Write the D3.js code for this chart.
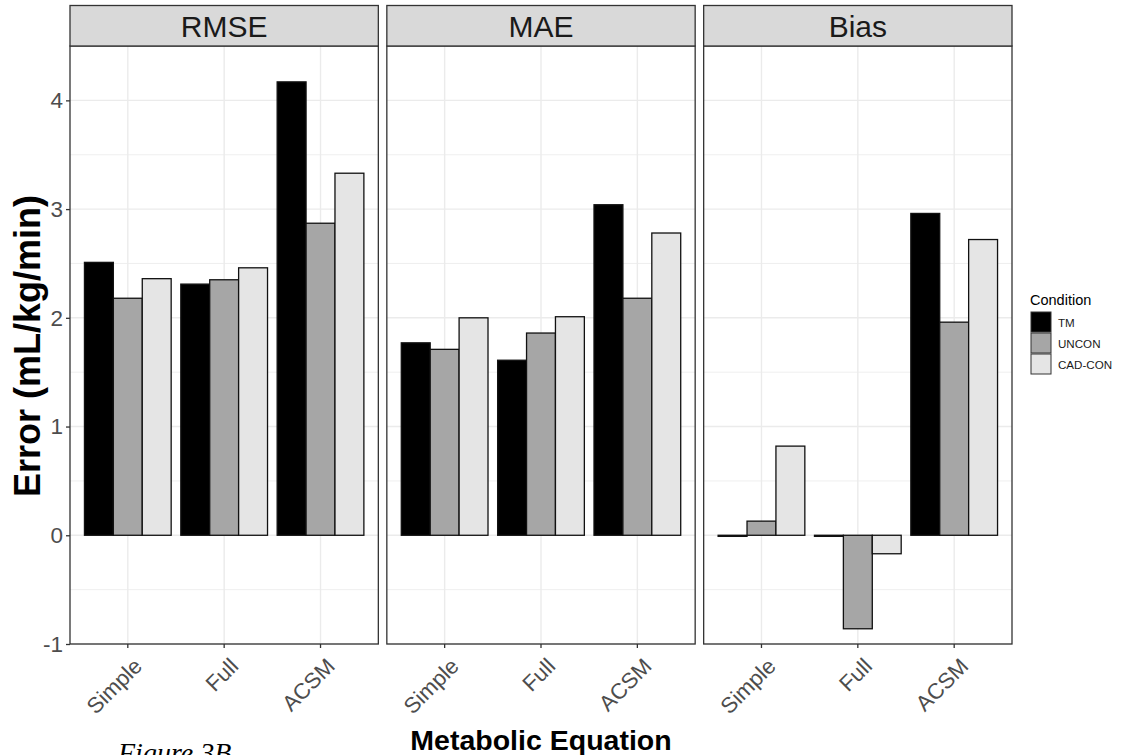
<!DOCTYPE html>
<html>
<head>
<meta charset="utf-8">
<script src="https://cdn.jsdelivr.net/npm/d3@7"></script>
<style>
  body { margin: 0; background: #ffffff; }
  svg { display: block; font-family: "Liberation Sans", Arial, sans-serif; }
</style>
</head>
<body>
<svg id="chart" width="1146" height="755"></svg>
<script>
// Facets, categories and series
const metrics = ["RMSE", "MAE", "Bias"];
const equations = ["Simple", "Full", "ACSM"];
const conditions = ["TM", "UNCON", "CAD-CON"];
const conditionFills = ["#000000", "#A6A6A6", "#E5E5E5"];

// Values per condition (rows: TM, UNCON, CAD-CON; columns: Simple, Full, ACSM)
const rmseValues = [[2.51, 2.31, 4.17], [2.18, 2.35, 2.87], [2.36, 2.46, 3.33]];
const maeValues  = [[1.77, 1.61, 3.04], [1.71, 1.86, 2.18], [2.00, 2.01, 2.78]];
const biasValues = [[-0.01, -0.01, 2.96], [0.13, -0.86, 1.96], [0.82, -0.17, 2.72]];

const yTicks = [-1, 0, 1, 2, 3, 4];
const yMinorTicks = [-0.5, 0.5, 1.5, 2.5, 3.5];

const metricValues = [rmseValues, maeValues, biasValues];

const svg = d3.select("#chart");

// Layout
const plotLeft = 70, plotRight = 1012, panelGap = 8.5;
const stripTop = 5.5, panelTop = 46, panelBottom = 644;
const panelWidth = (plotRight - plotLeft - panelGap * (metrics.length - 1)) / metrics.length;

const y = d3.scaleLinear().domain([-1, 4.5]).range([panelBottom, panelTop]);

const xEq = d3.scaleBand().domain(equations).range([0, panelWidth])
  .paddingInner(0.1).paddingOuter(0.15);
const xCond = d3.scaleBand().domain(conditions).range([0, xEq.bandwidth()]);
const fill = d3.scaleOrdinal().domain(conditions).range(conditionFills);

metrics.forEach((metric, mi) => {
  const left = plotLeft + mi * (panelWidth + panelGap);
  const g = svg.append("g").attr("transform", `translate(${left},0)`);

  // panel background
  g.append("rect").attr("x", 0).attr("y", panelTop)
    .attr("width", panelWidth).attr("height", panelBottom - panelTop)
    .attr("fill", "#ffffff");

  // minor grid
  g.selectAll(".minor").data(yMinorTicks).join("line")
    .attr("x1", 0).attr("x2", panelWidth)
    .attr("y1", d => y(d)).attr("y2", d => y(d))
    .attr("stroke", "#EBEBEB").attr("stroke-width", 0.8);

  // major grid
  g.selectAll(".majorY").data(yTicks).join("line")
    .attr("x1", 0).attr("x2", panelWidth)
    .attr("y1", d => y(d)).attr("y2", d => y(d))
    .attr("stroke", "#EBEBEB").attr("stroke-width", 1.4);
  g.selectAll(".majorX").data(equations).join("line")
    .attr("x1", d => xEq(d) + xEq.bandwidth() / 2).attr("x2", d => xEq(d) + xEq.bandwidth() / 2)
    .attr("y1", panelTop).attr("y2", panelBottom)
    .attr("stroke", "#EBEBEB").attr("stroke-width", 1.4);

  // bars
  const values = metricValues[mi];
  const barData = [];
  conditions.forEach((c, ci) => {
    equations.forEach((e, ei) => {
      barData.push({ condition: c, equation: e, value: values[ci][ei] });
    });
  });
  g.selectAll(".bar").data(barData).join("rect")
    .attr("x", d => xEq(d.equation) + xCond(d.condition))
    .attr("width", xCond.bandwidth())
    .attr("y", d => y(Math.max(0, d.value)))
    .attr("height", d => Math.abs(y(d.value) - y(0)))
    .attr("fill", d => fill(d.condition))
    .attr("stroke", "#111111").attr("stroke-width", 1.3);

  // panel border
  g.append("rect").attr("x", 0).attr("y", panelTop)
    .attr("width", panelWidth).attr("height", panelBottom - panelTop)
    .attr("fill", "none").attr("stroke", "#333333").attr("stroke-width", 1.3);

  // strip
  g.append("rect").attr("x", 0).attr("y", stripTop)
    .attr("width", panelWidth).attr("height", panelTop - stripTop)
    .attr("fill", "#D9D9D9").attr("stroke", "#333333").attr("stroke-width", 1.3);
  g.append("text").attr("x", panelWidth / 2).attr("y", (stripTop + panelTop) / 2 + 1)
    .attr("text-anchor", "middle").attr("dominant-baseline", "central")
    .attr("font-size", 30).attr("fill", "#1A1A1A").text(metric);

  // x axis
  const xAxis = g.append("g").attr("transform", `translate(0,${panelBottom})`)
    .call(d3.axisBottom(xEq).tickSize(4).tickSizeOuter(0));
  xAxis.select(".domain").remove();
  xAxis.selectAll(".tick line").attr("stroke", "#333333").attr("stroke-width", 1.3);
  xAxis.selectAll(".tick text")
    .attr("font-size", 22).attr("fill", "#4D4D4D")
    .attr("text-anchor", "end")
    .attr("y", 0).attr("dy", 0)
    .attr("transform", "translate(5,13) rotate(-45) translate(0,15)");

  // y axis on the first panel only
  if (mi === 0) {
    const yAxis = g.append("g")
      .call(d3.axisLeft(y).tickValues(yTicks).tickSize(4).tickFormat(d => String(d)));
    yAxis.select(".domain").remove();
    yAxis.selectAll(".tick line").attr("stroke", "#333333").attr("stroke-width", 1.3);
    yAxis.selectAll(".tick text").attr("font-size", 22.5).attr("fill", "#4D4D4D").attr("x", -7);
  }
});

// axis titles
svg.append("text")
  .attr("transform", `translate(27,${(panelTop + panelBottom) / 2 + 1}) rotate(-90)`)
  .attr("text-anchor", "middle").attr("dominant-baseline", "central")
  .attr("font-size", 36).attr("font-weight", "bold").attr("fill", "#000000")
  .text("Error (mL/kg/min)");

svg.append("text")
  .attr("x", (plotLeft + plotRight) / 2).attr("y", 750)
  .attr("text-anchor", "middle")
  .attr("font-size", 28.5).attr("font-weight", "bold").attr("fill", "#000000")
  .text("Metabolic Equation");

// legend
const legend = svg.append("g").attr("transform", "translate(1030,0)");
legend.append("text").attr("x", 0).attr("y", 305)
  .attr("font-size", 14.5).attr("fill", "#000000").text("Condition");
conditions.forEach((c, i) => {
  const ky = 312 + i * 21;
  legend.append("rect").attr("x", 1).attr("y", ky).attr("width", 20).attr("height", 20)
    .attr("fill", fill(c)).attr("stroke", "#333333").attr("stroke-width", 1);
  legend.append("text").attr("x", 28).attr("y", ky + 10)
    .attr("dominant-baseline", "central")
    .attr("font-size", 11.6).attr("fill", "#1A1A1A").text(c);
});

// figure label, set low on the page
svg.append("text").attr("x", 118).attr("y", 762)
  .attr("font-family", "'Liberation Serif', 'Times New Roman', serif")
  .attr("font-style", "italic").attr("font-size", 28).attr("fill", "#000000")
  .text("Figure 3B");
</script>
</body>
</html>
